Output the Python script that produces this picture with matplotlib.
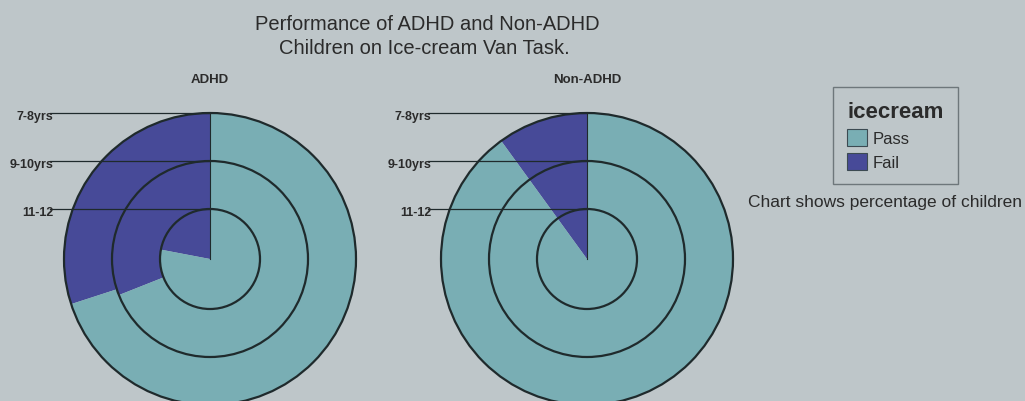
import matplotlib
matplotlib.use('Agg')
import matplotlib.pyplot as plt
from matplotlib.patches import Circle, Patch

plt.rcParams['font.family'] = ['Liberation Sans', 'DejaVu Sans']

# percentage of children failing / passing, outer ring to inner ring
age_groups = ['7-8yrs', '9-10yrs', '11-12']
adhd_fail = [30, 31, 22]
adhd_pass = [70, 69, 78]
non_adhd_fail = [10, 10, 10]
non_adhd_pass = [90, 90, 90]
groups = ['ADHD', 'Non-ADHD']
outcomes = ['Pass', 'Fail']

bg = '#bec6c9'
pass_col = '#79aeb4'
fail_col = '#474a98'
line_col = '#1f2a2c'
text_col = '#2b2b2b'

W, H = 1025, 402
fig = plt.figure(figsize=(W / 100, H / 100), dpi=100, facecolor=bg)
ax = fig.add_axes([0, 0, 1, 1])
ax.set_facecolor(bg)

# ring geometry in pixels
radii = [146, 98, 50]
ring_w = 48
centers = [(210, 142), (587, 142)]
label_right = [53, 431]


def draw_rings(cx, cy, fails, passes, lab_x):
    for r, f, p in zip(radii, fails, passes):
        props = dict(edgecolor='none', linewidth=0)
        if r > ring_w + 5:
            props['width'] = ring_w
        ax.pie([f, p], colors=[fail_col, pass_col], startangle=90,
               counterclock=True, radius=r, center=(cx, cy),
               wedgeprops=props)
    for r in radii:
        ax.add_patch(Circle((cx, cy), r, fill=False, ec=line_col, lw=1.6, zorder=3))
    ax.plot([cx, cx], [cy, cy + radii[0]], color=line_col, lw=0.8, zorder=3)
    # leader lines from the ring labels to the top of each ring
    for r, name in zip(radii, age_groups):
        ax.plot([lab_x - 3, cx], [cy + r, cy + r], color=line_col, lw=0.9, zorder=4)
        ax.text(lab_x, cy + r - 3, name, ha='right', va='center',
                fontsize=9, fontweight='bold', color=text_col, zorder=5)


draw_rings(*centers[0], adhd_fail, adhd_pass, label_right[0])
draw_rings(*centers[1], non_adhd_fail, non_adhd_pass, label_right[1])

for (cx, cy), g in zip(centers, groups):
    ax.text(cx, H - 80, g, ha='center', va='center', fontsize=9.5,
            fontweight='bold', color=text_col)

ax.text(427, H - 24, 'Performance of ADHD and Non-ADHD', ha='center',
        va='center', fontsize=14.5, color=text_col)
ax.text(424, H - 49, 'Children on Ice-cream Van Task.', ha='center',
        va='center', fontsize=14.5, color=text_col)

ax.text(748, H - 203, 'Chart shows percentage of children', ha='left',
        va='center', fontsize=12.5, color=text_col)

handles = [Patch(facecolor=pass_col, edgecolor='#3c4a52', lw=0.8),
           Patch(facecolor=fail_col, edgecolor='#3c4a52', lw=0.8)]
leg = ax.legend(handles, outcomes, title='icecream', loc='upper left',
                bbox_to_anchor=(833 / W, (H - 88) / H),
                bbox_transform=fig.transFigure, fontsize=12,
                title_fontproperties={'weight': 'bold', 'size': 16},
                alignment='left', frameon=True, fancybox=False,
                handlelength=1.2, handleheight=1.2, handletextpad=0.3,
                labelspacing=0.4, borderpad=0.85, borderaxespad=0)
leg.get_frame().set_facecolor(bg)
leg.get_frame().set_edgecolor('#5a6468')
leg.get_frame().set_linewidth(1.0)
for t in leg.get_texts():
    t.set_color(text_col)
leg.get_title().set_color(text_col)

ax.set_xlim(0, W)
ax.set_ylim(0, H)
ax.set_aspect('equal')
ax.axis('off')

fig.savefig('out.png', dpi=100, facecolor=bg)
